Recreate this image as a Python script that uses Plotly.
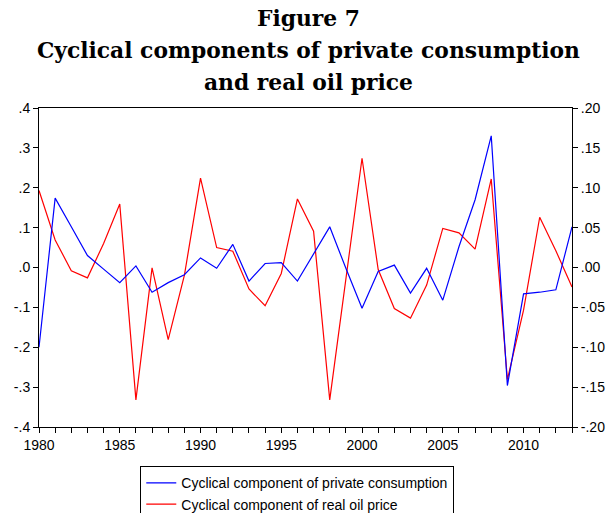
import plotly.graph_objects as go

years = list(range(1980, 2014))

# cyclical component of private consumption (right axis)
consumption = [-0.100, 0.087, 0.051, 0.015, -0.002, -0.019, 0.002, -0.031, -0.019, -0.009,
               0.012, -0.001, 0.029, -0.017, 0.005, 0.006, -0.017, 0.017, 0.051, -0.001,
               -0.051, -0.005, 0.003, -0.032, -0.001, -0.041, 0.026, 0.085, 0.165, -0.148,
               -0.033, -0.031, -0.028, 0.051]

# cyclical component of real oil price (left axis)
oil_price = [0.193, 0.069, -0.008, -0.026, 0.060, 0.159, -0.332, -0.001, -0.181, -0.020,
             0.224, 0.050, 0.041, -0.054, -0.096, -0.015, 0.172, 0.091, -0.332, -0.030,
             0.274, -0.005, -0.103, -0.127, -0.044, 0.098, 0.087, 0.046, 0.222, -0.281,
             -0.107, 0.126, 0.042, -0.049]

left_ticks = [-0.4, -0.3, -0.2, -0.1, 0.0, 0.1, 0.2, 0.3, 0.4]
left_labels = ['-.4', '-.3', '-.2', '-.1', '.0', '.1', '.2', '.3', '.4']
right_ticks = [-0.20, -0.15, -0.10, -0.05, 0.0, 0.05, 0.10, 0.15, 0.20]
right_labels = ['-.20', '-.15', '-.10', '-.05', '.00', '.05', '.10', '.15', '.20']

title_lines = ['Figure 7', 'Cyclical components of private consumption', 'and real oil price']

fig = go.Figure()
fig.add_trace(go.Scatter(
    x=years, y=consumption, mode='lines', yaxis='y2',
    name='Cyclical component of private consumption',
    line=dict(color='#0000FF', width=1.2)
))
fig.add_trace(go.Scatter(
    x=years, y=oil_price, mode='lines', yaxis='y',
    name='Cyclical component of real oil price',
    line=dict(color='#FF0000', width=1.2)
))

tick_font = dict(family='Liberation Sans, Arial', size=14, color='black')

# title lines as separate annotations (pixel centres ~18, 50, 82)
for i, line in enumerate(title_lines):
    fig.add_annotation(
        text='<b>' + line + '</b>', xref='paper', yref='paper',
        x=0.505, y=1.282 - i * 0.1003, xanchor='center', yanchor='middle',
        showarrow=False, font=dict(family='DejaVu Serif', size=21.8, color='black')
    )

fig.update_layout(
    width=608, height=513,
    margin=dict(l=39, r=36, t=108, b=86, autoexpand=False),
    paper_bgcolor='white', plot_bgcolor='white',
    xaxis=dict(
        range=[1980, 2013], tickvals=[1980, 1985, 1990, 1995, 2000, 2005, 2010],
        ticks='outside', ticklen=5, tickcolor='black',
        minor=dict(dtick=1, tick0=1980, ticks='outside', ticklen=5, tickcolor='black'),
        showline=True, linecolor='black', linewidth=1, mirror=True,
        showgrid=False, zeroline=False, tickfont=tick_font, automargin=False
    ),
    yaxis=dict(
        range=[-0.4, 0.4], tickvals=left_ticks, ticktext=left_labels,
        ticks='outside', ticklen=5, tickcolor='black',
        showline=True, linecolor='black', linewidth=1,
        showgrid=False, zeroline=False, tickfont=tick_font, automargin=False
    ),
    yaxis2=dict(
        range=[-0.2, 0.2], tickvals=right_ticks, ticktext=right_labels,
        overlaying='y', side='right',
        ticks='outside', ticklen=5, tickcolor='black',
        showline=True, linecolor='black', linewidth=1,
        showgrid=False, zeroline=False, tickfont=tick_font, automargin=False
    ),
    legend=dict(
        x=0.19, xanchor='left', y=-0.123, yanchor='top',
        bordercolor='black', borderwidth=1, bgcolor='white',
        font=dict(family='Liberation Sans, Arial', size=14, color='black'),
        tracegroupgap=0, itemwidth=30
    ),
    showlegend=True
)

# drop the browser's default body margin so the figure sits at the page corner
fig.write_html('out.html', config={'displayModeBar': False},
               post_script="document.body.style.margin='0';")
